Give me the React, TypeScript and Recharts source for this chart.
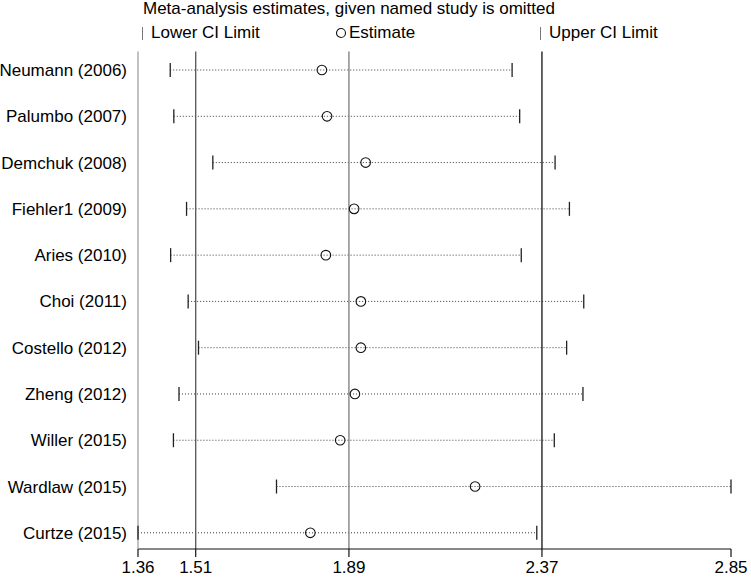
import React from 'react';
import { ScatterChart, Scatter, XAxis, YAxis, ReferenceLine } from 'recharts';

const studies = [
  'Neumann (2006)',
  'Palumbo (2007)',
  'Demchuk (2008)',
  'Fiehler1 (2009)',
  'Aries (2010)',
  'Choi (2011)',
  'Costello (2012)',
  'Zheng (2012)',
  'Willer (2015)',
  'Wardlaw (2015)',
  'Curtze (2015)',
];
const estimates = [1.822, 1.835, 1.932, 1.903, 1.832, 1.92, 1.92, 1.905, 1.868, 2.207, 1.793];
const lowerCI = [1.441, 1.45, 1.548, 1.482, 1.442, 1.486, 1.512, 1.463, 1.449, 1.708, 1.36];
const upperCI = [2.3, 2.319, 2.408, 2.444, 2.323, 2.48, 2.437, 2.478, 2.406, 2.85, 2.362];

const xTicks = [1.36, 1.505, 1.89, 2.375, 2.85];
const xTickLabels = ['1.36', '1.51', '1.89', '2.37', '2.85'];
const overallLines = [1.505, 1.89, 2.375];
const overallLineColors = ['#555', '#7a7a7a', '#111'];

const rowIds = studies.map((_, i) => i + 1);
const estData = studies.map((s, i) => ({ x: estimates[i], y: i + 1, study: s }));
const lowData = studies.map((s, i) => ({ x: lowerCI[i], y: i + 1, study: s }));
const upData = studies.map((s, i) => ({ x: upperCI[i], y: i + 1, study: s }));

const FONT = '"Liberation Sans", Arial, Helvetica, sans-serif';

const CircleShape = (props: any) => {
  const { cx, cy } = props;
  if (cx == null || cy == null) return null;
  return <circle cx={cx} cy={cy} r={4.8} fill="none" stroke="#111" strokeWidth={1.1} />;
};

const CapShape = (props: any) => {
  const { cx, cy } = props;
  if (cx == null || cy == null) return null;
  return <line x1={cx} x2={cx} y1={cy - 7} y2={cy + 7} stroke="#222" strokeWidth={1.3} />;
};

export default function App() {
  const textStyle: React.CSSProperties = {
    position: 'absolute',
    fontFamily: FONT,
    fontSize: 17,
    lineHeight: '20px',
    color: '#000',
    whiteSpace: 'nowrap',
  };
  return (
    <div style={{ position: 'absolute', left: 0, top: 0, width: 751, height: 579, background: '#fff' }}>
      <div style={{ ...textStyle, left: 143, top: -1 }}>
        Meta-analysis estimates, given named study is omitted
      </div>
      <div style={{ position: 'absolute', left: 142, top: 27, width: 1.3, height: 13, background: '#777' }} />
      <div style={{ ...textStyle, left: 151, top: 23 }}>Lower CI Limit</div>
      <svg style={{ position: 'absolute', left: 334, top: 26 }} width={14} height={14}>
        <circle cx={7} cy={7} r={4.5} fill="none" stroke="#111" strokeWidth={1.1} />
      </svg>
      <div style={{ ...textStyle, left: 349, top: 23 }}>Estimate</div>
      <div style={{ position: 'absolute', left: 540, top: 27, width: 1.3, height: 13, background: '#777' }} />
      <div style={{ ...textStyle, left: 549, top: 23 }}>Upper CI Limit</div>

      <ScatterChart
        width={751}
        height={579}
        margin={{ top: 51.5, right: 20, bottom: 0, left: 0 }}
        style={{ position: 'absolute', left: 0, top: 0 }}
      >
        <XAxis
          type="number"
          dataKey="x"
          domain={[1.36, 2.85]}
          ticks={xTicks}
          interval={0}
          tickFormatter={(v: number) => xTickLabels[xTicks.indexOf(v)] ?? String(v)}
          height={30}
          tickSize={8}
          tickMargin={4}
          axisLine={{ stroke: '#111', strokeWidth: 1.2 }}
          tickLine={{ stroke: '#111', strokeWidth: 1.2 }}
          tick={{ fill: '#000', fontSize: 17, fontFamily: FONT }}
        />
        <YAxis
          type="number"
          dataKey="y"
          domain={[0.6, 11.35]}
          reversed
          ticks={rowIds}
          interval={0}
          tickFormatter={(v: number) => studies[v - 1] ?? ''}
          width={138}
          tickLine={false}
          tickSize={9}
          tickMargin={2}
          axisLine={{ stroke: '#999', strokeWidth: 1.2 }}
          tick={{ fill: '#000', fontSize: 17, fontFamily: FONT }}
        />
        {studies.map((s, i) => (
          <ReferenceLine
            key={'seg' + s}
            segment={[
              { x: lowerCI[i], y: i + 1 },
              { x: upperCI[i], y: i + 1 },
            ]}
            stroke="#3a3a3a"
            strokeWidth={1}
            strokeDasharray="1 2"
          />
        ))}
        {overallLines.map((v, i) => (
          <ReferenceLine key={'ol' + i} x={v} stroke={overallLineColors[i]} strokeWidth={1.3} />
        ))}
        <Scatter data={lowData} shape={CapShape} isAnimationActive={false} />
        <Scatter data={upData} shape={CapShape} isAnimationActive={false} />
        <Scatter data={estData} shape={CircleShape} isAnimationActive={false} />
      </ScatterChart>
    </div>
  );
}
